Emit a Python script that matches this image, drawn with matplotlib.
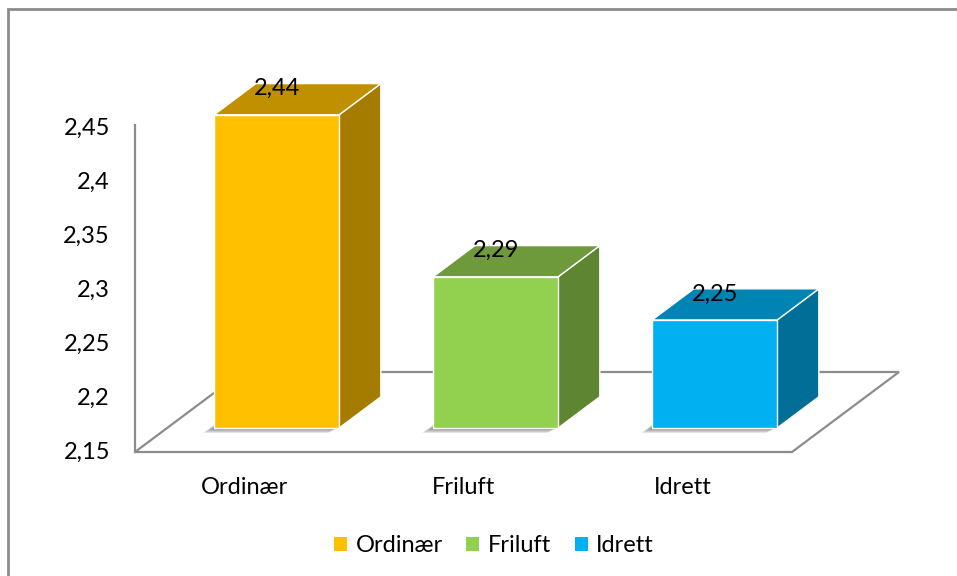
import matplotlib
matplotlib.use("Agg")
import matplotlib.pyplot as plt
from matplotlib.patches import Polygon, Patch, Rectangle

# data
categories = ["Ordinær", "Friluft", "Idrett"]
values = [2.44, 2.29, 2.25]
value_labels = ["2,44", "2,29", "2,25"]
yticks = [2.15, 2.2, 2.25, 2.3, 2.35, 2.4, 2.45]
ytick_labels = ["2,15", "2,2", "2,25", "2,3", "2,35", "2,4", "2,45"]

front_colors = ["#FFC000", "#92D050", "#00B0F0"]
top_colors = ["#C09000", "#6E9A3C", "#0084B4"]
side_colors = ["#A67C00", "#5E8532", "#006E96"]

plt.rcParams['font.family'] = ['Lato', 'DejaVu Sans']

W, H = 957, 576
PX_CAT = 219.0      # pixels per category
PX_VAL = 1080.0     # pixels per value unit
X0_PX = 244.5       # pixel x of first category (front plane)
Y0_PX = 452.0       # pixel y of base value
BASE = yticks[0]
FS = 17

# depth projection (full floor depth)
DX = 107 / PX_CAT
DY = 80 / PX_VAL
Z_FRONT, Z_BACK = 0.30, 0.69
HALF_W = 0.2854


def proj(x, h, z):
    return (x + z * DX, BASE + h + z * DY)


fig = plt.figure(figsize=(W / 100, H / 100), dpi=100)
ax = fig.add_axes([0, 0, 1, 1])
ax.set_xlim(-X0_PX / PX_CAT, (W - X0_PX) / PX_CAT)
ax.set_ylim(BASE - (H - Y0_PX) / PX_VAL, BASE + Y0_PX / PX_VAL)
ax.set_axis_off()

n = len(categories)
grey = "#8C8C8C"

# floor
xl, xr = -0.5, n - 0.5
floor = [proj(xl, 0, 0), proj(xr, 0, 0), proj(xr, 0, 1), proj(xl, 0, 1)]
ax.add_patch(Polygon(floor, closed=True, facecolor="white",
                     edgecolor=grey, linewidth=1.6, zorder=1))

# vertical axis
ax.plot([xl, xl], [BASE, yticks[-1] + 0.003], color=grey, lw=1.6, zorder=2)
for t, lab in zip(yticks, ytick_labels):
    ax.text(xl - 25 / PX_CAT, t, lab, ha="right", va="center",
            fontsize=FS, color="black")

# category labels
for i, c in enumerate(categories):
    ax.text(i, BASE - 35 / PX_VAL, c, ha="center", va="center",
            fontsize=FS, color="black")

# bars
for i, v in enumerate(values):
    h = v - BASE
    x1, x2 = i - HALF_W, i + HALF_W

    # soft shadow on the floor
    for k in range(8):
        off = (k + 1) * 1.4
        sx, sy = -off / PX_CAT, -off * 0.45 / PX_VAL
        fp = [proj(x1, 0, Z_FRONT), proj(x2, 0, Z_FRONT),
              proj(x2, 0, Z_BACK), proj(x1, 0, Z_BACK)]
        fp = [(a + sx, b + sy) for a, b in fp]
        ax.add_patch(Polygon(fp, closed=True, facecolor="#303030",
                             edgecolor="none", alpha=0.09, zorder=3))

    front = [proj(x1, 0, Z_FRONT), proj(x2, 0, Z_FRONT),
             proj(x2, h, Z_FRONT), proj(x1, h, Z_FRONT)]
    side = [proj(x2, 0, Z_FRONT), proj(x2, 0, Z_BACK),
            proj(x2, h, Z_BACK), proj(x2, h, Z_FRONT)]
    top = [proj(x1, h, Z_FRONT), proj(x2, h, Z_FRONT),
           proj(x2, h, Z_BACK), proj(x1, h, Z_BACK)]
    for poly, col in ((side, side_colors[i]), (top, top_colors[i]),
                      (front, front_colors[i])):
        ax.add_patch(Polygon(poly, closed=True, facecolor=col,
                             edgecolor="white", linewidth=1.0, zorder=4))

    lx, ly = proj(i, h, Z_FRONT)
    ax.text(lx, ly + 26 / PX_VAL, value_labels[i], ha="center",
            va="center", fontsize=FS, color="black", zorder=6)

# legend
handles = [Patch(facecolor=c, edgecolor="none") for c in front_colors]
ax.legend(handles, categories, loc="center",
          bbox_to_anchor=(494 / W, 1 - 546 / H),
          bbox_transform=fig.transFigure, ncol=3, frameon=False,
          handlelength=0.55, handleheight=0.55, handletextpad=0.35,
          columnspacing=1.0, fontsize=FS)

# chart border
fig.patches.append(Rectangle((8 / W, -0.1), 1.2, 1.1 - 9 / H,
                             transform=fig.transFigure, fill=False,
                             edgecolor=grey, linewidth=2))

fig.savefig("out.png", dpi=100)
